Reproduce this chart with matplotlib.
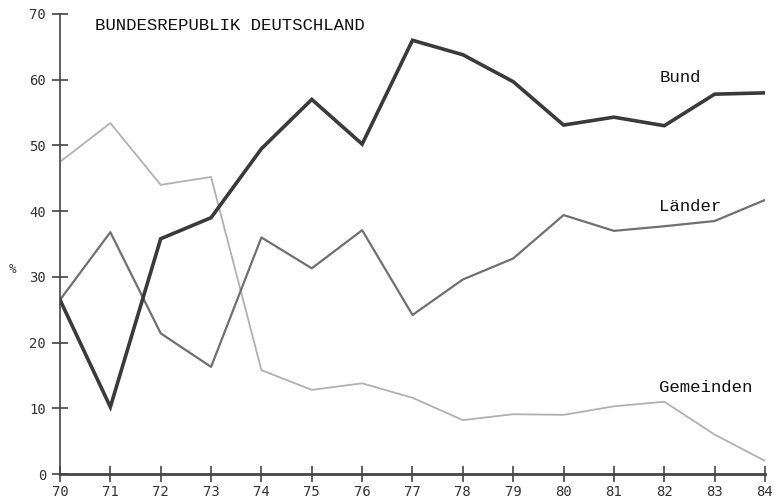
import matplotlib.pyplot as plt
import numpy as np

# Anteile an ... in %, Bundesrepublik Deutschland 1970-1984
years = [70, 71, 72, 73, 74, 75, 76, 77, 78, 79, 80, 81, 82, 83, 84]
bund = [26.5, 10.2, 35.8, 39.0, 49.5, 57.0, 50.2, 66.0, 63.8, 59.7, 53.1, 54.3, 53.0, 57.8, 58.0]
laender = [26.5, 36.8, 21.4, 16.3, 36.0, 31.3, 37.1, 24.2, 29.6, 32.8, 39.4, 37.0, 37.7, 38.5, 41.7]
gemeinden = [47.5, 53.4, 44.0, 45.2, 15.8, 12.8, 13.8, 11.6, 8.2, 9.1, 9.0, 10.3, 11.0, 6.0, 2.0]

y_ticks = [0, 10, 20, 30, 40, 50, 60, 70]

label_font = 'Liberation Mono'
tick_font = 'DejaVu Sans Mono'

fig = plt.figure(figsize=(7.77, 4.98), dpi=100)
ax = fig.add_axes([60/777, 1-474/498, (765-60)/777, (474-14)/498])

ax.plot(years, gemeinden, color='#b0b0b0', lw=1.3, solid_capstyle='butt')
ax.plot(years, laender, color='#707070', lw=1.6)
ax.plot(years, bund, color='#3a3a3a', lw=2.6, solid_joinstyle='miter')

ax.set_xlim(70, 84)
ax.set_ylim(0, 70)
ax.set_xticks(years)
ax.set_xticklabels([str(y) for y in years], fontfamily=tick_font, fontsize=10, color='#333333')
ax.set_yticks(y_ticks)
ax.set_yticklabels([str(v) for v in y_ticks], fontfamily=tick_font, fontsize=10, color='#333333')

for side in ['top', 'right']:
    ax.spines[side].set_visible(False)
ax.spines['left'].set_color('#444444')
ax.spines['left'].set_linewidth(1.2)
ax.spines['bottom'].set_color('#444444')
ax.spines['bottom'].set_linewidth(2.0)
ax.tick_params(axis='both', direction='inout', length=12, width=1.2, color='#444444')
ax.tick_params(axis='y', pad=4)
ax.tick_params(axis='x', pad=2)

ax.set_ylabel('%', rotation=0, fontfamily=tick_font, fontsize=9, color='#333333')
ax.yaxis.set_label_coords(-0.068, 0.43)

ax.text(0.05, 0.992, 'BUNDESREPUBLIK DEUTSCHLAND', transform=ax.transAxes,
        fontfamily=label_font, fontsize=12.5, ha='left', va='top', color='#111111')
ax.text(81.9, 60.3, 'Bund', fontfamily=label_font, fontsize=12.5, ha='left', va='center', color='#111111')
ax.text(81.9, 40.7, 'Länder', fontfamily=label_font, fontsize=12.5, ha='left', va='center', color='#111111')
ax.text(81.9, 13.2, 'Gemeinden', fontfamily=label_font, fontsize=12.5, ha='left', va='center', color='#111111')

fig.savefig('out.png', dpi=100)
